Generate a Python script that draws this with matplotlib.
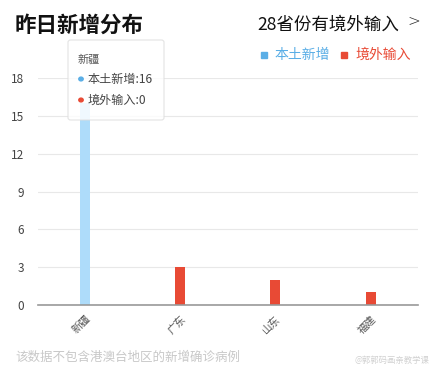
import matplotlib.pyplot as plt
from matplotlib.patches import FancyBboxPatch
import numpy as np

plt.rcParams['font.family'] = ['Noto Sans CJK SC', 'DejaVu Sans']

# --- Daten ---
provinces = ['新疆', '广东', '山东', '福建']
local_new = [16, 0, 0, 0]
imported = [0, 3, 2, 1]
y_ticks = [0, 3, 6, 9, 12, 15, 18]

c_local = '#aedcfa'
c_local_dark = '#5aaee6'
c_import = '#e84a35'

fig = plt.figure(figsize=(4.35, 3.72), dpi=100)
ax = fig.add_axes([0.087, 0.180, 0.874, 0.610])

x = np.arange(len(provinces))
ax.bar(x, local_new, width=0.105, color=c_local, zorder=2)
ax.bar(x, imported, width=0.105, color=c_import, zorder=2)

ax.set_xlim(-0.5, len(provinces) - 0.5)
ax.set_ylim(0, 18)
ax.set_yticks(y_ticks)
ax.set_yticklabels([str(v) for v in y_ticks], fontsize=8.5, color='#444444')
ax.set_xticks(x)
ax.set_xticklabels(provinces, rotation=45, ha='right', rotation_mode='anchor',
                   fontsize=7.5, color='#555555')
ax.tick_params(axis='both', length=0)
ax.tick_params(axis='y', pad=10)
ax.tick_params(axis='x', pad=6)
ax.grid(axis='y', color='#e8e8e8', linewidth=0.8, zorder=0)
for s in ['top', 'right', 'left']:
    ax.spines[s].set_visible(False)
ax.spines['bottom'].set_color('#999999')
ax.spines['bottom'].set_linewidth(1.2)
ax.spines['bottom'].set_zorder(3)

# Kopfzeile
fig.text(15 / 435, 1 - 25 / 372, '昨日新增分布', fontsize=15.5, fontweight='bold',
         color='#111111', va='center', ha='left')
fig.text(257 / 435, 1 - 25 / 372, '28省份有境外输入', fontsize=12.6,
         color='#111111', va='center', ha='left')
fig.text(407 / 435, 1 - 22 / 372, '>', fontsize=11, color='#222222',
         va='center', ha='left', family='DejaVu Sans', fontweight='light')

# Legende
fig.patches.append(plt.Rectangle((261 / 435, 1 - 58 / 372), 6 / 435, 6 / 372,
                                 transform=fig.transFigure, color=c_local_dark))
fig.text(275 / 435, 1 - 55 / 372, '本土新增', fontsize=10, color=c_local_dark,
         va='center', ha='left')
fig.patches.append(plt.Rectangle((341 / 435, 1 - 58 / 372), 6 / 435, 6 / 372,
                                 transform=fig.transFigure, color=c_import))
fig.text(355 / 435, 1 - 55 / 372, '境外输入', fontsize=10, color=c_import,
         va='center', ha='left')

# Tooltip
tip = FancyBboxPatch((68 / 435, 1 - 120 / 372), 96 / 435, 80 / 372,
                     boxstyle='round,pad=0,rounding_size=0.006',
                     transform=fig.transFigure, facecolor='white', alpha=0.82,
                     edgecolor='#dddddd', linewidth=0.8, zorder=5)
fig.patches.append(tip)
fig.text(78 / 435, 1 - 60 / 372, provinces[0], fontsize=8, color='#555555',
         va='center', ha='left', zorder=6)
fig.patches.append(plt.Circle((81 / 435, 1 - 79 / 372), 2.2 / 435,
                              transform=fig.transFigure, color=c_local_dark, zorder=6))
fig.text(88 / 435, 1 - 79 / 372, f'本土新增:{local_new[0]}', fontsize=8.7,
         color='#444444', va='center', ha='left', zorder=6)
fig.patches.append(plt.Circle((81 / 435, 1 - 100 / 372), 2.2 / 435,
                              transform=fig.transFigure, color=c_import, zorder=6))
fig.text(88 / 435, 1 - 100 / 372, f'境外输入:{imported[0]}', fontsize=8.7,
         color='#444444', va='center', ha='left', zorder=6)

# Fusszeile
fig.text(15 / 435, 1 - 357 / 372, '该数据不包含港澳台地区的新增确诊病例', fontsize=9,
         color='#c8c8c8', va='center', ha='left')
fig.text(429 / 435, 1 - 360 / 372, '@郭郭码画亲教学课', fontsize=6,
         color='#d0d0d0', va='center', ha='right')

fig.savefig('out.png', dpi=100)
